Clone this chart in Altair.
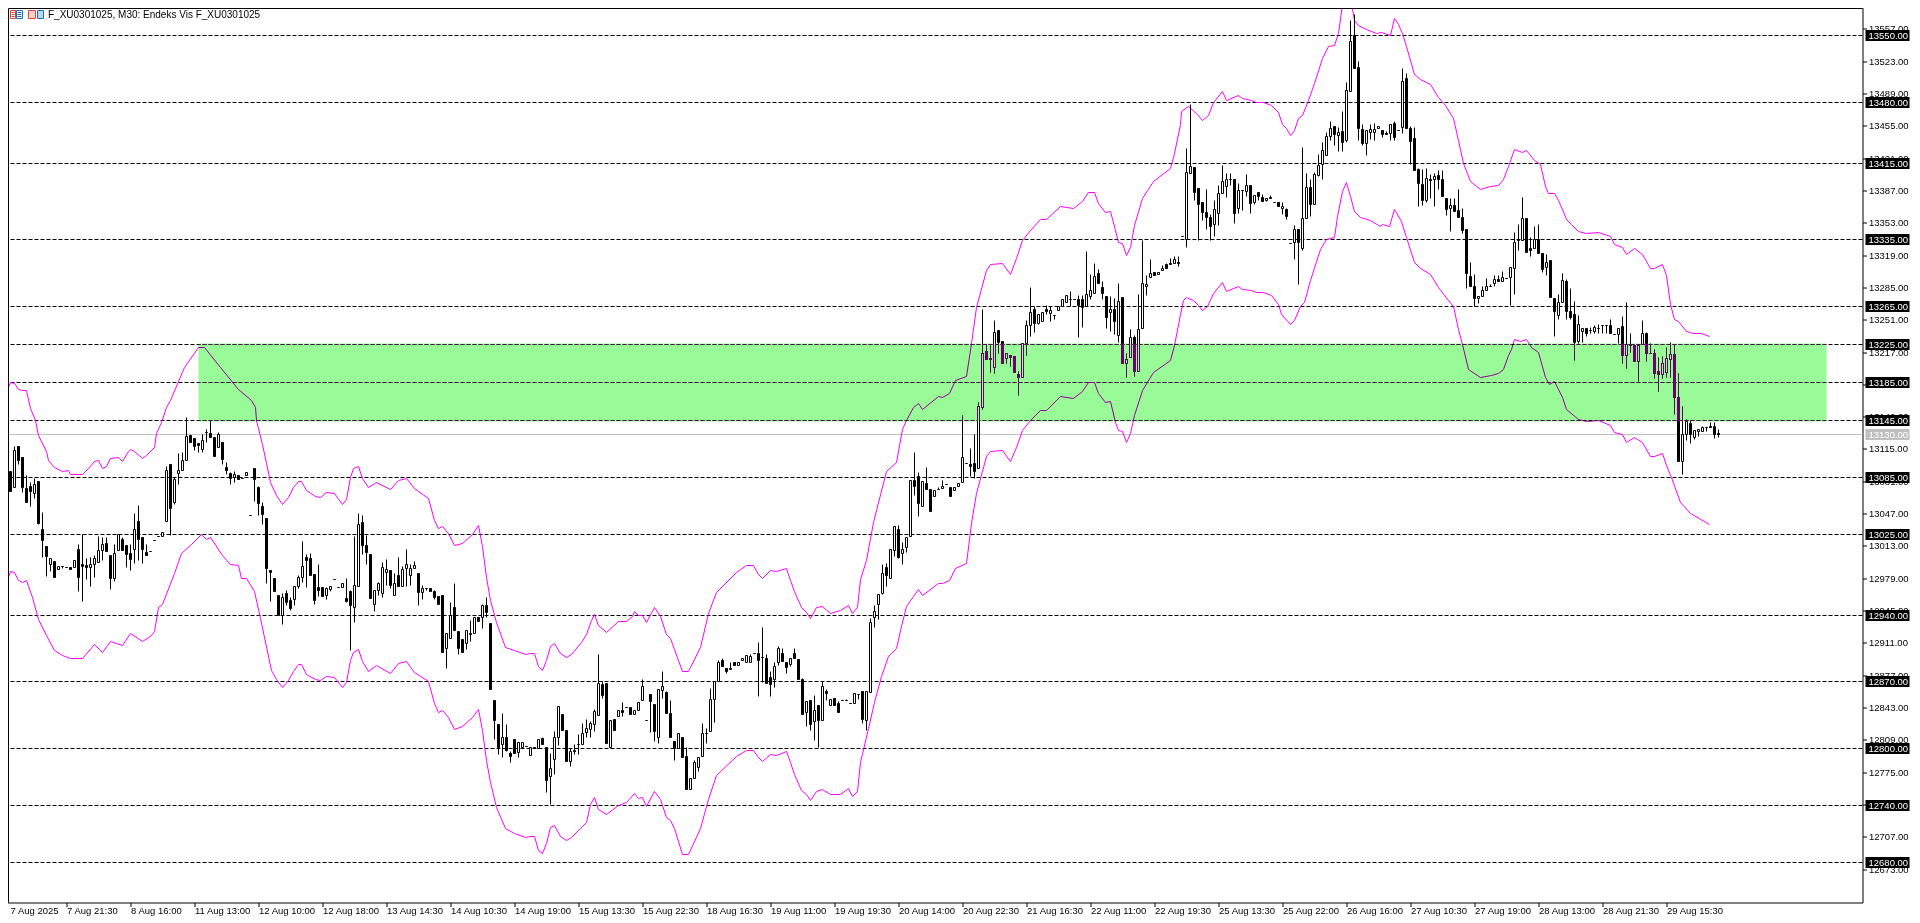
import altair as alt
import pandas as pd

# (open, high, low, close), 30-minute bars in order
seg_a = [
(13050,13050,13029,13029),(13050,13105,13049,13097),(13091,13091,13070,13070),(13074,13118,13074,13113),
(13118,13118,13099,13103),(13106,13106,13069,13075),(13073,13087,13059,13059),(13076,13080,13054,13070),
(13068,13084,13063,13078),(13081,13081,13036,13037),(13030,13048,13001,13019),(13012,13012,12981,13002),
(12994,13000,12986,13000),(12997,12997,12980,12980),(12988,12991,12988,12991),(12991,12991,12989,12991),
(12990,12990,12990,12990),(12990,12990,12988,12988),(12990,12998,12990,12998),(13009,13014,12965,12980),
(12993,13025,12955,12991),(12992,13000,12978,12990),(12990,13001,12970,12994),(12993,13003,12980,13000),
(12996,13023,12996,13008),(13008,13022,12998,13014),(13016,13022,13007,13007),(13003,13003,12967,12979),
(12979,13015,12976,13005),(13008,13025,13008,13025),(13020,13022,13008,13008),(13013,13013,12990,13004),
(13005,13015,12987,12999),(13009,13047,12995,13030),(13039,13056,12998,13020),(13022,13022,12995,13009),
(13006,13014,13003,13003),(13007,13007,13007,13007),(13019,13019,13019,13019),(13023,13023,13023,13023),
(13023,13027,13023,13027),(13039,13097,13039,13092),(13099,13099,13024,13052),(13059,13085,13057,13083),
(13089,13110,13078,13092),(13092,13111,13092,13103),(13103,13148,13103,13128),
]
seg_b = [
(13129,13129,13122,13122),(13126,13126,13113,13118),(13121,13121,13111,13119),(13114,13130,13111,13124),
(13132,13135,13122,13132),(13131,13145,13127,13127),(13127,13127,13107,13107),(13117,13132,13117,13130),
(13122,13122,13099,13104),(13095,13101,13088,13092),(13089,13090,13078,13084),(13085,13091,13080,13088),
(13087,13087,13083,13083),(13084,13084,13084,13084),(13087,13090,13087,13090),(13045,13045,13045,13045),
(13094,13094,13060,13083),(13074,13076,13045,13058),(13055,13059,13036,13046),(13042,13042,12974,12989),
(12987,12987,12955,12985),(12979,12979,12965,12965),(12961,12961,12940,12940),(12940,12963,12930,12959),
(12963,12966,12950,12954),(12956,12959,12945,12947),(12957,12970,12950,12970),(12970,12982,12968,12980),
(12980,13018,12975,12991),(13001,13004,12969,12998),(13000,13005,12982,12982),(12983,12983,12951,12956),
(12969,12994,12960,12966),(12969,12969,12960,12960),(12961,12969,12957,12968),(12967,12970,12965,12970),
(12978,12978,12978,12978),(12969,12969,12969,12969),(12969,12973,12969,12973),(12958,12979,12954,12955),
(12965,12966,12903,12950),(12948,13023,12932,12971),(12970,13047,12970,13036),(13038,13045,13004,13013),
(13013,13024,12994,13006),(13004,13004,12958,12958),(12951,12966,12944,12966),(12966,12975,12961,12973),
(12963,12996,12959,12990),(12985,12999,12971,12988),(12987,12987,12968,12971),(12961,12984,12961,12973),
(12982,13001,12970,12970),(12970,12991,12970,12988),(12989,13009,12970,12993),(12982,12994,12971,12989),
(12989,12997,12989,12992),(12984,12984,12950,12964),(12964,12971,12957,12968),(12968,12968,12966,12968),
(12968,12968,12965,12965),(12965,12966,12957,12959),(12960,12960,12951,12951),(12961,12961,12901,12901),
(12905,12921,12884,12921),(12916,12954,12916,12940),(12948,12974,12924,12924),(12923,12923,12899,12905),
(12915,12915,12901,12901),(12910,12924,12904,12924),(12921,12935,12912,12920),(12921,12938,12921,12938),
(12938,12938,12934,12934),(12938,12951,12926,12950),(12950,12959,12938,12943),
]
seg_c = [
(12931,12931,12862,12862),(12850,12850,12809,12829),(12825,12825,12794,12801),(12804,12837,12790,12811),
(12811,12825,12797,12798),(12795,12797,12785,12791),(12809,12809,12795,12795),(12796,12806,12790,12806),
(12801,12806,12801,12806),(12802,12802,12802,12802),(12793,12801,12793,12801),(12801,12801,12801,12801),
(12800,12809,12800,12809),(12810,12812,12804,12804),(12801,12801,12754,12766),(12770,12795,12741,12779),
(12788,12818,12773,12811),(12812,12844,12803,12844),(12836,12836,12819,12819),(12819,12819,12786,12786),
(12786,12800,12781,12797),(12798,12804,12794,12797),(12804,12815,12794,12804),(12804,12826,12804,12816),
(12817,12830,12812,12821),(12820,12828,12811,12826),(12825,12841,12818,12839),(12835,12899,12835,12868),
(12867,12870,12853,12856),(12868,12868,12805,12805),(12801,12829,12801,12829),(12830,12830,12819,12819),
(12834,12840,12834,12840),(12840,12848,12834,12838),(12843,12843,12843,12843),(12843,12843,12836,12836),
(12836,12840,12836,12840),(12840,12848,12840,12848),(12850,12872,12850,12865),(12829,12829,12829,12829),
(12857,12857,12817,12849),(12846,12846,12807,12818),(12812,12862,12805,12862),(12861,12881,12853,12865),
(12859,12860,12837,12837),(12837,12850,12811,12811),(12807,12807,12787,12800),(12800,12816,12800,12816),
(12811,12811,12790,12790),(12792,12801,12757,12757),(12757,12768,12757,12768),(12768,12787,12768,12785),
(12780,12790,12776,12790),(12792,12826,12792,12816),(12816,12821,12805,12816),(12818,12863,12818,12851),
(12851,12870,12827,12870),(12870,12892,12870,12890),(12893,12895,12886,12886),(12884,12884,12879,12881),
(12884,12890,12883,12883),(12890,12890,12887,12887),(12887,12890,12887,12890),(12892,12895,12892,12895),
(12890,12898,12890,12898),(12890,12899,12890,12897),(12900,12900,12900,12900),(12900,12911,12855,12893),
(12896,12927,12869,12896),(12895,12899,12868,12868),(12875,12881,12855,12867),(12873,12890,12864,12886),
(12890,12907,12887,12905),(12900,12905,12891,12891),(12890,12890,12879,12885),(12888,12895,12886,12895),
(12900,12905,12895,12895),(12894,12894,12872,12872),(12872,12874,12836,12836),(12838,12849,12823,12849),
(12850,12850,12819,12825),(12828,12856,12808,12840),(12845,12845,12801,12829),(12829,12870,12829,12865),
(12860,12862,12850,12858),(12845,12851,12845,12851),(12852,12852,12845,12845),(12847,12849,12838,12838),
(12850,12850,12850,12850),(12850,12851,12850,12850),(12847,12847,12847,12847),(12847,12858,12847,12858),
(12857,12857,12851,12857),(12860,12860,12826,12830),(12829,12860,12819,12860),(12859,12937,12859,12932),
(12938,12950,12927,12944),(12951,12962,12936,12962),(12963,12993,12962,12984),
]
seg_d = [
(12990,12995,12970,12982),(12979,13009,12979,13009),(13008,13033,13002,13033),(13030,13034,13000,13001),
(13005,13017,12993,13009),(13011,13022,13006,13022),(13023,13082,13023,13082),(13082,13111,13066,13076),
(13086,13090,13044,13058),(13054,13081,13054,13081),(13079,13095,13072,13072),(13072,13072,13049,13049),
(13065,13071,13065,13071),(13072,13074,13072,13072),(13073,13082,13073,13076),(13078,13078,13078,13078),
(13075,13075,13065,13065),(13071,13075,13071,13075),(13076,13079,13076,13079),(13080,13150,13080,13106),
(13100,13100,13100,13100),(13099,13115,13086,13097),(13100,13130,13084,13091),(13094,13164,13094,13160),
(13159,13262,13157,13215),(13218,13225,13209,13209),(13210,13224,13195,13209),(13201,13250,13194,13238),
(13240,13240,13215,13227),(13228,13228,13205,13205),(13210,13215,13205,13215),(13213,13213,13202,13211),
(13212,13212,13195,13195),(13193,13197,13171,13190),(13190,13226,13190,13226),(13226,13250,13213,13245),
(13245,13285,13233,13259),(13262,13265,13238,13247),(13247,13256,13246,13256),(13249,13259,13249,13259),
(13262,13266,13257,13260),(13258,13265,13249,13261),(13255,13255,13251,13255),(13261,13265,13261,13265),
(13265,13272,13265,13272),(13269,13276,13269,13276),(13272,13281,13265,13272),(13272,13272,13272,13272),
(13272,13276,13232,13266),(13272,13276,13243,13264),(13265,13323,13265,13278),(13275,13299,13272,13282),
(13279,13310,13279,13296),(13300,13304,13289,13289),(13285,13291,13272,13279),(13275,13275,13242,13253),
(13259,13275,13239,13262),(13262,13273,13235,13249),(13234,13289,13227,13270),(13274,13274,13205,13205),
(13205,13215,13190,13209),(13211,13241,13211,13232),(13232,13234,13191,13197),(13197,13278,13197,13241),
(13242,13334,13242,13289),(13286,13298,13276,13288),(13295,13314,13295,13300),(13301,13301,13298,13298),
(13299,13301,13299,13301),(13303,13308,13303,13305),(13309,13310,13305,13305),(13310,13315,13309,13309),
(13310,13317,13310,13314),(13311,13317,13307,13310),(13339,13339,13339,13339),
]
seg_e = [
(13335,13431,13327,13406),(13405,13477,13405,13412),(13411,13411,13376,13385),(13389,13389,13334,13372),
(13374,13374,13355,13364),(13364,13388,13346,13358),(13358,13362,13334,13349),(13351,13376,13339,13367),
(13363,13392,13350,13384),(13384,13413,13384,13396),(13391,13405,13380,13398),(13399,13405,13392,13398),
(13398,13398,13352,13363),(13368,13394,13363,13387),(13387,13387,13366,13387),(13386,13404,13381,13392),
(13392,13392,13363,13373),(13374,13382,13372,13382),(13385,13385,13376,13381),(13380,13383,13375,13375),
(13376,13379,13375,13379),(13380,13382,13379,13379),(13374,13374,13374,13374),(13374,13374,13370,13370),
(13368,13374,13362,13370),(13367,13368,13356,13360),(13331,13331,13331,13331),(13332,13350,13314,13346),
(13346,13346,13288,13332),(13326,13432,13324,13357),(13357,13405,13357,13390),(13390,13399,13360,13372),
(13372,13406,13372,13404),(13403,13425,13402,13413),(13414,13437,13398,13429),(13424,13448,13424,13444),
(13444,13460,13440,13452),(13454,13454,13434,13446),(13445,13453,13428,13448),(13449,13470,13428,13437),
(13439,13501,13437,13492),(13491,13566,13491,13544),(13550,13572,13515,13515),(13516,13523,13439,13452),
(13451,13456,13434,13436),(13436,13450,13424,13450),(13448,13456,13441,13451),(13448,13457,13439,13451),
(13452,13454,13452,13454),(13450,13450,13443,13446),(13447,13449,13446,13446),(13447,13456,13440,13456),
(13457,13459,13440,13443),(13450,13450,13450,13450),(13453,13515,13447,13502),(13505,13510,13452,13452),
(13452,13454,13414,13438),(13442,13453,13408,13408),(13409,13410,13370,13394),
]
seg_f = [
(13393,13409,13371,13376),(13376,13410,13374,13400),(13398,13404,13378,13397),(13398,13405,13370,13402),
(13403,13408,13388,13398),(13398,13408,13381,13381),(13379,13379,13361,13367),(13368,13379,13344,13371),
(13371,13379,13365,13365),(13366,13388,13358,13358),(13358,13368,13342,13345),(13346,13346,13284,13300),
(13296,13311,13286,13286),(13286,13299,13265,13273),(13273,13275,13268,13275),(13275,13286,13275,13282),
(13282,13294,13282,13286),(13286,13288,13286,13286),(13289,13298,13286,13293),(13293,13297,13291,13291),
(13291,13302,13291,13295),(13294,13294,13294,13294),(13295,13306,13266,13306),(13305,13343,13277,13332),
(13334,13351,13324,13334),(13334,13380,13334,13357),(13357,13357,13322,13322),(13326,13337,13317,13324),
(13326,13349,13326,13335),(13335,13351,13321,13321),(13321,13321,13301,13304),(13306,13320,13297,13311),
(13313,13313,13274,13274),(13273,13273,13233,13260),(13255,13278,13251,13269),(13269,13300,13269,13292),
(13291,13293,13251,13260),(13260,13284,13251,13253),(13257,13270,13208,13227),(13228,13255,13226,13246),
(13239,13242,13227,13242),(13242,13242,13233,13236),(13240,13243,13236,13240),(13239,13245,13237,13243),
(13242,13246,13237,13242),(13245,13245,13236,13245),(13245,13245,13237,13245),(13245,13251,13237,13237),
(13235,13235,13235,13235),(13235,13242,13226,13242),(13244,13254,13205,13213),(13213,13269,13200,13225),
(13225,13237,13217,13224),(13224,13224,13207,13207),(13207,13224,13186,13224),(13225,13250,13225,13236),
(13237,13238,13207,13215),(13215,13226,13215,13215),(13215,13220,13189,13194),(13196,13211,13175,13193),
(13193,13212,13189,13205),(13195,13222,13190,13210),(13209,13227,13190,13214),(13214,13225,13151,13169),
(13169,13194,13102,13102),(13102,13160,13088,13130),(13130,13146,13124,13144),(13142,13145,13121,13130),
(13127,13134,13125,13134),(13133,13136,13128,13136),(13133,13139,13133,13138),(13138,13138,13133,13138),
(13139,13143,13138,13138),(13139,13143,13126,13130),(13131,13136,13127,13130),
]

# moving-average envelope, read as (bar, price)
upper_a = [(0,13150),(1,13175),(2,13185),(3,13184),(4,13178),(5,13177),(6,13176),(7,13158),(8.2,13145),(9,13129),(11,13112),(11.5,13103),(13,13096),(15,13091),(16.5,13092),(17,13088),(20,13088),(21.5,13094),(23,13102),(24,13103),(25,13094),(26,13097),(27,13105),(29,13106),(30,13102),(31.5,13112),(32,13114),(33,13112),(35,13105),(36,13108),(38,13117),(38.6,13131),(39.8,13143),(41,13159),(42,13166),(45.4,13201),(49,13222),(50.5,13222),(54.5,13201),(59,13178),(62.2,13166),(63.2,13159),(63.6,13145),(65,13120),(66,13100),(67,13080),(68.6,13066),(70,13057),(71.5,13064),(72.8,13074),(74,13081),(74.8,13081),(76,13071),(78.2,13065),(79.4,13064),(81,13069),(83,13068),(85,13057),(86,13062),(87,13085),(87.8,13094),(89,13097),(90,13084),(91.5,13074),(93.6,13080),(97,13072),(99,13082),(101,13084),(103,13073),(106.5,13063),(108,13040),(109,13031),(110,13033),(111.5,13026),(113,13013),(115,13016),(117.4,13025),(119,13034),(120,13012),(121,12980)]
upper_b = [(122,12956),(123.6,12932),(125.7,12906),(128,12903),(130.7,12899),(132,12900),(133,12900),(134,12886),(135,12882),(136,12893),(137,12907),(138,12910),(139.5,12900),(141,12896),(142.3,12899),(144.8,12911),(146,12920),(147.2,12935),(148,12941),(149,12929),(151,12922),(154,12933),(156,12934),(157.4,12939),(158,12944),(159,12940),(160,12940),(161,12932),(163,12948),(164.4,12939),(166,12920),(167,12916),(168,12904),(170,12881),(171.5,12881),(174.4,12906),(176.5,12942),(178.6,12964),(183.6,12985),(186,12992),(187.8,12992),(189,12983),(190,12979),(192,12987),(193.6,12986),(196,12989),(197,12977),(198,12965),(199.8,12948),(201,12943),(202,12937),(203.6,12948),(205,12949),(207,12942),(209.5,12945),(211.6,12950),(212.5,12942),(213.8,12948)]
upper_c = [(214.6,12978),(216,12998),(217.8,13038),(221,13091),(223.6,13101),(225,13135),(226,13145),(227.8,13159),(229,13163),(230,13157),(234,13170),(235,13169),(236.8,13173),(238.3,13187),(240.9,13191),(242.3,13226),(243.6,13264),(246,13303),(247,13309),(250,13310),(252,13299),(253.6,13315),(255,13334),(257,13345),(259.4,13356),(261,13356),(264.4,13370),(267.8,13368),(270,13375),(271.5,13385),(273,13385),(274,13373),(275.7,13364),(277,13365),(278.2,13345),(279,13332),(280,13331),(281,13319),(282,13327),(283,13350),(285,13378),(287.7,13396),(292,13410),(293,13426),(294.4,13456),(294.8,13470),(296.5,13475),(298.6,13468),(300,13461),(301.5,13466),(302.8,13479),(305,13491),(306,13482),(309,13487),(310,13484)]
upper_d = [(312.3,13482),(313.6,13480),(315.3,13480),(317.3,13476),(319,13469),(320,13456),(321,13452),(322,13445),(323,13450),(324,13463),(325,13466),(326.5,13482),(328,13499),(330,13526),(331.5,13538),(333,13539),(334,13552),(335,13583),(336,13592),(337,13590),(338,13566),(339,13561),(341,13556),(343.5,13552),(344.8,13553),(346.9,13550),(348,13568),(349,13562),(350,13552),(351,13538),(353,13509),(354.4,13504),(356.9,13498),(359,13485),(360.8,13476),(362.8,13463),(364,13440),(365.3,13415),(367,13396),(369.4,13388),(372,13391),(374,13392),(375.3,13398),(376.5,13412),(378,13430),(380,13427),(381,13429),(383,13419),(384.4,13414),(385.7,13391),(386.5,13384),(388,13384),(389,13376),(390,13367),(390.9,13356),(392.3,13351),(394,13344),(396,13342),(399,13343),(402,13339),(403,13330),(405,13327),(406,13320),(408,13326),(410,13320),(412,13305),(413,13305),(415,13309),(415.9,13297),(416.9,13267),(418,13251),(419,13249),(421,13239),(422.7,13237),(424.8,13237),(426.7,13233)]
lower_a = [(0,12959),(1,12973),(2,12986),(3,12985),(4,12977),(5,12975),(6,12977),(7.5,12959),(9,12936),(11,12919),(13,12903),(15,12898),(17,12895),(20,12895),(23,12909),(25,12901),(27,12912),(30,12908),(32,12921),(35,12912),(36.9,12918),(38,12923),(39,12948),(40,12951),(43,12984),(44.8,13005),(47.3,13015),(49.8,13025),(51,13020),(52,13022),(55,13003),(57,12993),(59,12992),(59.8,12979),(61,12979),(63,12965),(64.4,12937),(67.3,12882),(68.6,12873),(70,12864),(71.5,12871),(72.8,12881),(74,12888),(74.8,12888),(76,12878),(78.2,12872),(79.4,12871),(81,12876),(83,12875),(85,12864),(86,12869),(87,12892),(87.8,12901),(89,12904),(90,12891),(91.5,12881),(93.6,12887),(97,12879),(99,12889),(101,12891),(103,12880),(106.5,12870),(108,12847),(109,12838),(110,12840),(111.5,12833),(113,12820),(115,12823),(117.4,12832),(119,12841),(120,12819),(121,12787)]
lower_b = [(122,12764),(123.6,12738),(125.7,12716),(128,12710),(130.7,12706),(132,12707),(133,12707),(134,12693),(135,12689),(136,12700),(137,12717),(138,12719),(139.5,12707),(141,12703),(142.3,12706),(144.5,12716),(146,12722),(147,12741),(148,12748),(149,12736),(151,12730),(154,12740),(156,12743),(158,12753),(159,12747),(160,12748),(161,12739),(163,12755),(164.4,12746),(166,12727),(167,12724),(168,12716),(170,12688),(171.5,12688),(174.4,12716),(176.5,12746),(178.6,12771),(183.6,12792),(186,12798),(187.8,12798),(189,12790),(190,12786),(192,12794),(193.6,12793),(196,12797),(197,12785),(198,12773),(199.8,12756),(201,12751),(202,12745),(203.6,12755),(205,12757),(207,12751),(209.5,12752),(211.6,12758),(212.5,12749),(213.8,12755),(214.6,12785),(216.5,12821),(218,12848),(219.8,12876),(221.4,12897),(223.6,12905)]
lower_c = [(224.8,12928),(226,12949),(227.8,12960),(229,12967),(230,12961),(234,12974),(235,12973),(236.8,12977),(238.3,12989),(240.9,12995),(242.3,13037),(243.6,13068),(246,13107),(247,13112),(250,13113),(252,13102),(253.6,13117),(255,13134),(257,13145),(259.4,13156),(261,13156),(264.4,13170),(267.8,13168),(270,13175),(271.5,13185),(273,13185),(274,13173),(275.7,13164),(277,13165),(278.2,13143),(279,13134),(280,13133),(281,13122),(282,13131),(283,13150),(285,13177),(287.7,13195),(292,13208),(293,13224),(294.4,13257),(295.2,13271),(296,13274),(297.8,13271),(299,13266),(300,13261),(301.3,13265),(302.8,13279),(305,13290),(306,13281),(309,13286),(310,13283),(312.3,13282),(313.6,13280),(315.3,13280),(317.3,13276),(319,13267),(319.8,13257),(322,13246),(323,13250),(324.4,13265),(325.4,13269),(327,13292),(329.4,13325)]
lower_d = [(331,13335),(333,13338),(333.8,13360),(335,13386),(336,13395),(337,13381),(338,13365),(339.4,13359),(342,13355),(344.4,13349),(345,13351),(346.8,13349),(348,13367),(349.8,13354),(351,13337),(353,13311),(354.4,13305),(357,13299),(359,13285),(361.5,13271),(362.7,13265),(364,13241),(365,13225),(366.6,13199),(369.4,13190),(372.3,13192),(374,13194),(375.3,13199),(376.5,13213),(377.3,13220),(378,13230),(379.4,13228),(381,13230),(382.3,13222),(384,13216),(385.7,13190),(386.7,13183),(388,13186),(390,13169),(391,13157),(394,13146),(396,13144),(399,13145),(402,13140),(403,13132),(405,13130),(406,13122),(408,13127),(410,13122),(412,13107),(413,13107),(414.9,13110),(415.9,13098),(417.2,13085),(419.4,13059),(422,13047),(426.7,13036)]

levels = [13550,13480,13415,13335,13265,13225,13185,13145,13085,13025,12940,12870,12800,12740,12680]
last_price = [13130]
price_ticks = [13557,13523,13489,13455,13421,13387,13353,13319,13285,13251,13217,13183,13149,13115,13081,13047,13013,12979,12945,12911,12877,12843,12809,12775,12741,12707,12673]
time_labels = ["7 Aug 2025","7 Aug 21:30","8 Aug 16:00","11 Aug 13:00","12 Aug 10:00","12 Aug 18:00","13 Aug 14:30","14 Aug 10:30","14 Aug 19:00","15 Aug 13:30","15 Aug 22:30","18 Aug 16:30","19 Aug 11:00","19 Aug 19:30","20 Aug 14:00","20 Aug 22:30","21 Aug 16:30","22 Aug 11:00","22 Aug 19:30","25 Aug 13:30","25 Aug 22:00","26 Aug 16:00","27 Aug 10:30","27 Aug 19:00","28 Aug 13:00","28 Aug 21:30","29 Aug 15:30"]
time_bars = [16 * k for k in range(len(time_labels))]
zone = {"b0": 49, "b1": 456, "p0": 13144, "p1": 13226}
title_text = "F_XU0301025, M30:  Endeks Vis F_XU0301025"

W, H = 1860, 900
FONT = "Liberation Sans"
FS = 9.5

ohlc = seg_a + seg_b + seg_c + seg_d + seg_e + seg_f
candles = pd.DataFrame(ohlc, columns=["o", "h", "l", "c"])
candles["bar"] = range(len(candles))
candles["top"] = candles[["o", "c"]].max(axis=1)
candles["bot"] = candles[["o", "c"]].min(axis=1)
candles["kind"] = ["bull" if c > o else "bear" for o, c in zip(candles.o, candles.c)]

upper = pd.DataFrame(upper_a + upper_b + upper_c + upper_d, columns=["bar", "p"])
lower = pd.DataFrame(lower_a + lower_b + lower_c + lower_d, columns=["bar", "p"])
lev = pd.DataFrame({"p": levels, "t": [f"{v:.2f}" for v in levels]})
lastp = pd.DataFrame({"p": last_price, "t": [f"{v:.2f}" for v in last_price]})

xs = alt.Scale(domain=[0, 465], round=True, nice=False, zero=False, padding=0)
ys = alt.Scale(domain=[12637.9, 13584.7], round=True, nice=False, zero=False, padding=0)
# the first label would fall left of the page margin, so it is drawn as its own text below
label_map = "{" + ",".join(f'"{b}":"{t}"' for b, t in list(zip(time_bars, time_labels))[1:]) + "}"

y_axis = alt.Axis(
    orient="right", values=price_ticks, format=".2f", title=None, grid=False,
    labelFont=FONT, labelFontSize=FS, labelColor="black", labelPadding=2, labelOverlap=False,
    labelBound=False, labelFlush=False, tickSize=4, tickColor="black", domainColor="black",
    tickOpacity=1, domainOpacity=1)
x_axis = alt.Axis(
    orient="bottom", values=time_bars, title=None, grid=False,
    labelExpr=label_map + "[datum.value] || ''", labelAlign="left", labelBaseline="middle",
    labelFont=FONT, labelFontSize=FS, labelColor="black", labelPadding=4, labelOverlap=False,
    labelBound=False, labelFlush=False, tickSize=4, tickColor="black", domainColor="black",
    tickOpacity=1, domainOpacity=1)


def X(f):
    return alt.X(f, type="quantitative", scale=xs, axis=x_axis)


def Y(f):
    return alt.Y(f, type="quantitative", scale=ys, axis=y_axis)


grid = alt.Chart(lev).mark_rule(color="black", strokeWidth=1, strokeDash=[4, 2]).encode(y=Y("p"))
last_line = alt.Chart(lastp).mark_rule(color="#C0C0C0", strokeWidth=1).encode(y=Y("p"))

up_line = alt.Chart(upper).mark_line(color="#FF00FF", strokeWidth=1, clip=True).encode(x=X("bar"), y=Y("p"))
lo_line = alt.Chart(lower).mark_line(color="#FF00FF", strokeWidth=1, clip=True).encode(x=X("bar"), y=Y("p"))

wicks = alt.Chart(candles).mark_rule(color="black", strokeWidth=1, clip=True).encode(x=X("bar"), y=Y("h"), y2="l")
bodies = alt.Chart(candles).mark_bar(size=2, stroke="black", strokeWidth=1, clip=True).encode(
    x=X("bar"), y=Y("top"), y2="bot",
    fill=alt.Fill("kind:N", scale=alt.Scale(domain=["bull", "bear"], range=["white", "black"]), legend=None),
)

rect = alt.Chart(pd.DataFrame([zone])).mark_rect(fill="#670467", blend="difference").encode(
    x=X("b0"), x2="b1", y=Y("p0"), y2="p1"
)

box_x0, box_x1, text_x = W + 3, W + 47, W + 6
level_boxes = alt.Chart(lev).mark_rule(color="black", strokeWidth=11).encode(
    y=Y("p"), x=alt.value(box_x0), x2=alt.value(box_x1))
level_text = alt.Chart(lev).mark_text(color="white", font=FONT, fontSize=FS, align="left", baseline="middle").encode(
    y=Y("p"), x=alt.value(text_x), text="t:N")
last_box = alt.Chart(lastp).mark_rule(color="#C0C0C0", strokeWidth=11).encode(
    y=Y("p"), x=alt.value(box_x0), x2=alt.value(box_x1))
last_text = alt.Chart(lastp).mark_text(color="white", font=FONT, fontSize=FS, align="left", baseline="middle").encode(
    y=Y("p"), x=alt.value(text_x), text="t:N")

title = alt.Chart(pd.DataFrame({"t": [title_text]})).mark_text(
    font=FONT, fontSize=10, color="black", align="left", baseline="middle"
).encode(x=alt.value(45.5), y=alt.value(12.5), text="t:N")
first_label = alt.Chart(pd.DataFrame({"t": [time_labels[0]]})).mark_text(
    font=FONT, fontSize=FS, color="black", align="left", baseline="middle"
).encode(x=alt.value(8), y=alt.value(H + 8.5), text="t:N")

dummy = pd.DataFrame({"a": [0]})
frame_left = alt.Chart(dummy).mark_rule(color="black", strokeWidth=1).encode(
    x=alt.value(6), y=alt.value(6), y2=alt.value(H))
frame_top = alt.Chart(dummy).mark_rule(color="black", strokeWidth=1).encode(
    y=alt.value(6), x=alt.value(6), x2=alt.value(W))


# the two small toolbar icons beside the title
def box(x0, x1, fill, stroke):
    return alt.Chart(dummy).mark_rect(fill=fill, stroke=stroke, strokeWidth=1).encode(
        x=alt.value(x0), x2=alt.value(x1), y=alt.value(8), y2=alt.value(16))


def bar_line(x0, x1, y, color):
    return alt.Chart(dummy).mark_rule(color=color, strokeWidth=1).encode(
        x=alt.value(x0), x2=alt.value(x1), y=alt.value(y))


icons = [
    box(8, 13, "white", "#E0403A"), box(14, 20, "white", "#1F6FB5"),
    bar_line(9, 12, 10, "#E0403A"), bar_line(9, 12, 12, "#E0403A"), bar_line(9, 12, 14, "#E0403A"),
    bar_line(15, 19, 10, "#1F6FB5"), bar_line(15, 19, 12, "#1F6FB5"), bar_line(15, 19, 14, "#1F6FB5"),
    box(26, 33, "#FAD4CC", "#E0403A"), box(35, 41, "#B5D9F2", "#1F6FB5"),
]

chart = alt.layer(
    grid, last_line, up_line, lo_line, wicks, bodies, rect, frame_left, frame_top,
    level_boxes, last_box, level_text, last_text, title, first_label, *icons,
).properties(
    width=W, height=H, background="white",
    padding={"left": -5.5, "top": -5.5, "right": 49.5, "bottom": 20.5},
    autosize=alt.AutoSizeParams(type="none"),
).configure_view(fill="white", strokeWidth=0)

chart.save("out.html", embed_options={"renderer": "svg", "actions": False})
